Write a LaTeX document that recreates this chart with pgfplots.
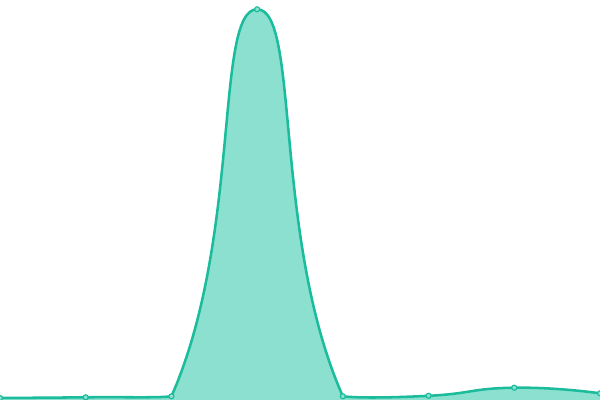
\documentclass[border=0pt]{standalone}
\usepackage{pgfplots}
\pgfplotsset{compat=1.18}
\definecolor{teal}{RGB}{26,188,156}
\definecolor{tealfill}{RGB}{139,224,207}

% smoothing as in the source chart: control points clamped to the points' bounding box
\makeatletter
\newcount\ec@n
\newcount\ec@i
\def\ec@s{0.5}
\def\ec@X#1{\csname ec@x\number#1\endcsname}
\def\ec@Y#1{\csname ec@y\number#1\endcsname}
\def\pgfplothandlerecsmooth{%
	\def\pgf@plotstreamstart{\global\ec@n=0\relax}%
	\def\pgf@plotstreampoint##1{%
		\pgf@process{##1}%
		\global\advance\ec@n by 1\relax
		\expandafter\xdef\csname ec@x\the\ec@n\endcsname{\strip@pt\pgf@x}%
		\expandafter\xdef\csname ec@y\the\ec@n\endcsname{\strip@pt\pgf@y}%
	}%
	\def\pgf@plotstreamspecial##1{}%
	\def\pgf@plotstreamend{\ec@draw}%
}
\def\ec@clamp#1#2#3{\edef#1{\fpeval{min(max(#1,#2),#3)}}}
\def\ec@draw{%
	\edef\ec@minx{\ec@X{1}}\edef\ec@maxx{\ec@minx}%
	\edef\ec@miny{\ec@Y{1}}\edef\ec@maxy{\ec@miny}%
	\ec@i=1
	\loop\ifnum\ec@i<\ec@n
		\advance\ec@i by 1
		\edef\ec@minx{\fpeval{min(\ec@minx,\ec@X{\ec@i})}}%
		\edef\ec@maxx{\fpeval{max(\ec@maxx,\ec@X{\ec@i})}}%
		\edef\ec@miny{\fpeval{min(\ec@miny,\ec@Y{\ec@i})}}%
		\edef\ec@maxy{\fpeval{max(\ec@maxy,\ec@Y{\ec@i})}}%
	\repeat
	\pgf@plot@first@action{\pgfqpoint{\ec@X{1}pt}{\ec@Y{1}pt}}%
	\edef\ec@cx{\ec@X{1}}\edef\ec@cy{\ec@Y{1}}%
	\ec@i=1
	\loop\ifnum\ec@i<\ec@n
		\advance\ec@i by 1
		\edef\ec@px{\ec@X{\ec@i}}\edef\ec@py{\ec@Y{\ec@i}}%
		\count@=\ec@i \advance\count@ by -1
		\edef\ec@ax{\ec@X{\count@}}\edef\ec@ay{\ec@Y{\count@}}%
		\ifnum\ec@i<\ec@n
			\count@=\ec@i \advance\count@ by 1
			\edef\ec@bx{\ec@X{\count@}}\edef\ec@by{\ec@Y{\count@}}%
			\edef\ec@vx{\fpeval{(\ec@bx)-(\ec@ax)}}%
			\edef\ec@vy{\fpeval{(\ec@by)-(\ec@ay)}}%
			\edef\ec@lp{\fpeval{sqrt(((\ec@px)-(\ec@ax))^2+((\ec@py)-(\ec@ay))^2)}}%
			\edef\ec@ln{\fpeval{sqrt(((\ec@bx)-(\ec@px))^2+((\ec@by)-(\ec@py))^2)}}%
			\edef\ec@r{\fpeval{(\ec@ln)/((\ec@ln)+(\ec@lp))}}%
			\edef\ec@dx{\fpeval{(\ec@px)-(\ec@vx)*\ec@s*(1-(\ec@r))}}%
			\edef\ec@dy{\fpeval{(\ec@py)-(\ec@vy)*\ec@s*(1-(\ec@r))}}%
		\else
			\edef\ec@dx{\ec@px}\edef\ec@dy{\ec@py}%
		\fi
		\ec@clamp\ec@cx\ec@minx\ec@maxx \ec@clamp\ec@cy\ec@miny\ec@maxy
		\ec@clamp\ec@dx\ec@minx\ec@maxx \ec@clamp\ec@dy\ec@miny\ec@maxy
		\pgfpathcurveto{\pgfqpoint{\ec@cx pt}{\ec@cy pt}}{\pgfqpoint{\ec@dx pt}{\ec@dy pt}}{\pgfqpoint{\ec@px pt}{\ec@py pt}}%
		\ifnum\ec@i<\ec@n
			\edef\ec@cx{\fpeval{(\ec@px)+(\ec@vx)*\ec@s*(\ec@r)}}%
			\edef\ec@cy{\fpeval{(\ec@py)+(\ec@vy)*\ec@s*(\ec@r)}}%
		\fi
	\repeat
}
\tikzset{ec smooth/.code={\let\tikz@plot@handler=\pgfplothandlerecsmooth}}
\makeatother

\begin{document}
\begin{tikzpicture}
	\begin{axis}[hide axis, scale only axis, width=15cm, height=10cm,
		xmin=0, xmax=7, ymin=0, ymax=400, clip marker paths=true]
		\addplot[draw=none, fill=tealfill, ec smooth] coordinates
			{(0,2) (1,2.7) (2,3.7) (3,390.7) (4,3.7) (5,4.2) (6,12.3) (7,6.7)} \closedcycle;
		\addplot[color=teal, line width=1.8pt, ec smooth, mark=*,
			mark options={fill=tealfill, draw=teal, line width=0.8pt}, mark size=1.8pt] coordinates
			{(0,2) (1,2.7) (2,3.7) (3,390.7) (4,3.7) (5,4.2) (6,12.3) (7,6.7)};
	\end{axis}
	\pgfresetboundingbox
	\path[use as bounding box] (current axis.south west) rectangle (current axis.north east);
\end{tikzpicture}
\end{document}
